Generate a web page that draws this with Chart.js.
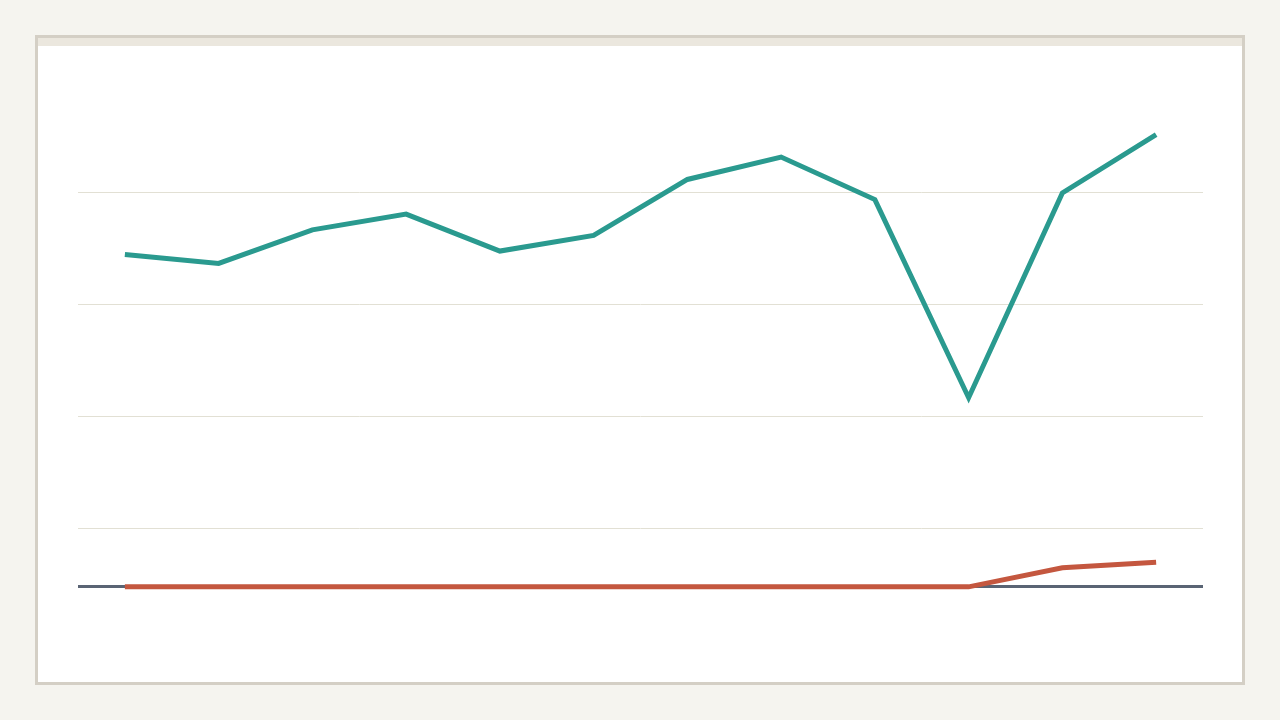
<!DOCTYPE html>
<html lang="en">
<head>
    <meta charset="UTF-8">
    <title>Line chart</title>
    <script src="https://cdn.jsdelivr.net/npm/chart.js"></script>
    <style>
        body {
            margin: 0;
            background-color: #f5f4ef;
            width: 1280px;
            height: 720px;
            overflow: hidden;
        }
        .card {
            position: absolute;
            left: 35px;
            top: 35px;
            width: 1210px;
            height: 650px;
            box-sizing: border-box;
            border: 3px solid #d4cfc5;
            background: #ffffff;
        }
        .band {
            height: 8px;
            background: #ebe7de;
        }
        #myChart {
            position: absolute;
            left: 0;
            top: 0;
        }
    </style>
</head>
<body>
    <div class="card"><div class="band"></div></div>
    <canvas id="myChart" width="1280" height="720"></canvas>

    <script>
        // data
        const categories = ['1', '2', '3', '4', '5', '6', '7', '8', '9', '10', '11', '12'];
        const seriesA = [297, 289, 319, 333, 300, 314, 364, 384, 346, 169, 352, 404];
        const seriesB = [0, 0, 0, 0, 0, 0, 0, 0, 0, 0, 17, 22];
        const gridValues = [0, 52, 152, 252, 352];

        const ctx = document.getElementById('myChart').getContext('2d');
        new Chart(ctx, {
            type: 'line',
            data: {
                labels: categories,
                datasets: [
                    {
                        data: seriesA,
                        borderColor: '#2a9a8f',
                        borderWidth: 5,
                        pointRadius: 0,
                        tension: 0
                    },
                    {
                        data: seriesB,
                        borderColor: '#c4573f',
                        borderWidth: 5,
                        pointRadius: 0,
                        tension: 0
                    }
                ]
            },
            options: {
                responsive: false,
                animation: false,
                layout: {
                    padding: { left: 78, right: 77, top: 72, bottom: 66 }
                },
                plugins: {
                    legend: { display: false },
                    tooltip: { enabled: false }
                },
                scales: {
                    x: {
                        display: false,
                        offset: true
                    },
                    y: {
                        min: -60,
                        max: 460,
                        afterBuildTicks: (scale) => {
                            scale.ticks = gridValues.map(v => ({ value: v }));
                        },
                        afterFit: (scale) => { scale.width = 0; },
                        ticks: { display: false },
                        border: { display: false },
                        grid: {
                            drawTicks: false,
                            color: (c) => c.tick && c.tick.value === 0 ? '#5a6474' : '#e2e0d4',
                            lineWidth: (c) => c.tick && c.tick.value === 0 ? 3 : 1
                        }
                    }
                }
            }
        });
    </script>
</body>
</html>
